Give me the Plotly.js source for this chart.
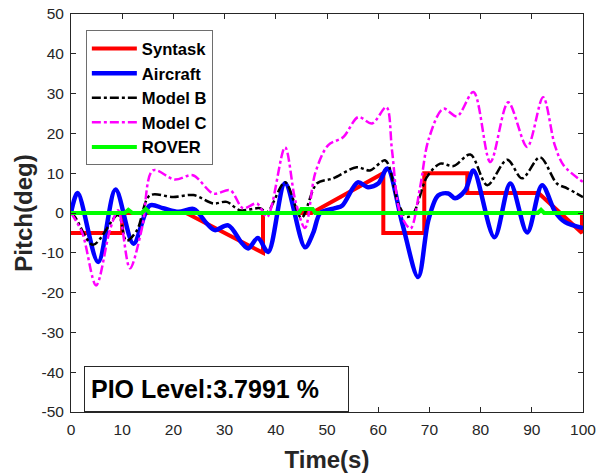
<!DOCTYPE html>
<html>
<head>
<meta charset="utf-8">
<script src="https://cdn.plot.ly/plotly-3.0.1.min.js"></script>
<style>
  html, body { margin: 0; padding: 0; background: #fff; }
  #chart { width: 609px; height: 474px; }
</style>
</head>
<body>
<div id="chart"></div>
<script>
// Pitch response over time for the task command, the aircraft and the models.
const syntaskT = [0, 10, 10, 22.5, 37.5, 37.5, 47, 61, 61, 69, 69, 77.4, 77.4, 91.3, 99.8, 99.8];
const syntaskPitch = [-5, -5, 0, 0, -10, 0, 0, 10, -5, -5, 10, 10, 5, 5, -5, 0];

const aircraftT = [0, 1.3, 5.3, 8.7, 12.2, 15.4, 18, 21, 24, 26.5, 28.1, 30.7, 33.4, 34.6, 36.5, 38.5,
  41.8, 45.7, 47.3, 48.7, 51.6, 53, 56, 58, 60, 61.8, 64.7, 67.8, 69.8, 71.7, 73.7, 75, 77, 78.6,
  82.7, 85.8, 89.1, 92, 94.6, 96.5, 100];
const aircraftPitch = [0, 5, -12.3, 5.9, -7.7, 1.9, 1.2, 0.3, 1, -2.6, -4.3, -3.1, -7.6, -8.9, -6.3, -9.8,
  7.5, -8.6, -5, 0, 1.2, 1.9, 7.7, 6.5, 7.4, 11.2, -2.6, -16.1, -1.8, 4.4, 4.9, 3.7, 5.7, 10.7,
  -6.1, 7.4, -4.9, 7, 0.2, -2.3, -3.8];

const modelBT = [0, 0.8, 4.3, 9.2, 10.8, 12.9, 15.4, 20, 23.9, 27.8, 30.4, 33, 36.9, 38.3, 41.8, 45,
  48, 51.2, 55.8, 58.4, 61.4, 63.9, 65.6, 66.9, 69.5, 72.1, 74.7, 78, 81.3, 85.2, 88.1, 91.6, 94.9,
  96.9, 100];
const modelBPitch = [0, -1, -8, -0.5, -7, -4.3, 4.4, 4, 4.5, 2.4, 2.8, 0.7, 1.2, 0.2, 7.7, -1.2,
  7.4, 8.7, 11.5, 10.7, 13.2, 2.4, -1, 0, 9, 12.4, 11.8, 14.7, 7, 13.4, 8.7, 14, 7.4,
  6.2, 4];

const modelCT = [0, 2.2, 4.9, 7.6, 9.2, 11.5, 13.9, 16, 20.3, 23.8, 27.8, 31.1, 33.6, 36.3, 38.3, 41.8,
  43.8, 45.7, 47.7, 50.2, 53.2, 56.1, 58.8, 61.6, 62.7, 64.3, 66.3, 68.2, 69.8, 72.7, 75.4, 78.6,
  81.9, 85.4, 89.1, 92.2, 94.5, 96.2, 100];
const modelCPitch = [0, -5, -18.2, -4.3, 0.7, -13.9, -3.6, 10.7, 8.4, 9.5, 4.9, 5.7, 1.2, 2.4, -1, 16.5,
  3.2, -3.8, 10, 17, 19.1, 24.1, 22.5, 26.6, 15.7, 0, -3.9, 6.6, 18.3, 26.2, 24.3, 30.4,
  12.8, 27.8, 16.6, 29.1, 17, 12, 7.8];

const roverT = [0, 10.5, 11.2, 12, 13.8, 14.6, 15.4, 44.5, 45, 47.2, 47.7, 91.2, 91.8, 92.4, 100];
const roverPitch = [0, 0, 0.8, 0, 0, 1, 0, 0, 1, 1, 0, 0, 0.8, 0, 0];

const xTicks = [0, 10, 20, 30, 40, 50, 60, 70, 80, 90, 100];
const yTicks = [-50, -40, -30, -20, -10, 0, 10, 20, 30, 40, 50];
const pioText = 'PIO Level:3.7991 %';

const FONT = 'Arial, "Liberation Sans", Helvetica, sans-serif';

const traces = [
  { x: syntaskT, y: syntaskPitch, name: 'Syntask', mode: 'lines',
    line: { color: '#ff0000', width: 4 } },
  { x: aircraftT, y: aircraftPitch, name: 'Aircraft', mode: 'lines',
    line: { color: '#0000ff', width: 4.5, shape: 'spline', smoothing: 0.9 } },
  { x: modelBT, y: modelBPitch, name: 'Model B', mode: 'lines',
    line: { color: '#000000', width: 2.5, dash: 'dashdot', shape: 'spline', smoothing: 0.9 } },
  { x: modelCT, y: modelCPitch, name: 'Model C', mode: 'lines',
    line: { color: '#ff00ff', width: 2.5, dash: 'dashdot', shape: 'spline', smoothing: 0.9 } },
  { x: roverT, y: roverPitch, name: 'ROVER', mode: 'lines',
    line: { color: '#00ff00', width: 4 } }
];

const axisCommon = {
  showgrid: false, zeroline: false,
  showline: true, linecolor: '#262626', linewidth: 1, mirror: 'ticks',
  ticks: 'inside', ticklen: 5, tickwidth: 1, tickcolor: '#262626',
  ticklabelstandoff: 3,
  tickfont: { family: FONT, size: 15.5, color: '#262626' }
};

const layout = {
  width: 609, height: 474,
  margin: { l: 71, r: 26, t: 14, b: 62 },
  paper_bgcolor: '#ffffff', plot_bgcolor: '#ffffff',
  font: { family: FONT, color: '#000000' },
  xaxis: Object.assign({}, axisCommon, {
    range: [0, 100], tickvals: xTicks, ticktext: xTicks.map(String),
    title: { text: 'Time(s)', font: { family: FONT, size: 24, weight: 'bold', color: '#262626' }, standoff: 14 }
  }),
  yaxis: Object.assign({}, axisCommon, {
    range: [-50, 50], tickvals: yTicks, ticktext: yTicks.map(String),
    title: { text: 'Pitch(deg)', font: { family: FONT, size: 24, weight: 'bold', color: '#262626' }, standoff: 2 }
  }),
  showlegend: true,
  legend: {
    x: 0.029, y: 0.959, xanchor: 'left', yanchor: 'top',
    bgcolor: '#ffffff', bordercolor: '#6e6e6e', borderwidth: 1,
    font: { family: FONT, size: 16.6, weight: 'bold', color: '#000000' },
    itemwidth: 45, tracegroupgap: 0
  },
  annotations: [{
    xref: 'paper', yref: 'paper', x: 0.0254, y: 0, xanchor: 'left', yanchor: 'bottom',
    text: pioText, showarrow: false, align: 'left',
    width: 251, height: 32, borderpad: 6,
    bgcolor: '#ffffff', bordercolor: '#262626', borderwidth: 1,
    font: { family: FONT, size: 25, weight: 'bold', color: '#000000' }
  }]
};

Plotly.newPlot('chart', traces, layout, { displayModeBar: false, staticPlot: true });
</script>
</body>
</html>
